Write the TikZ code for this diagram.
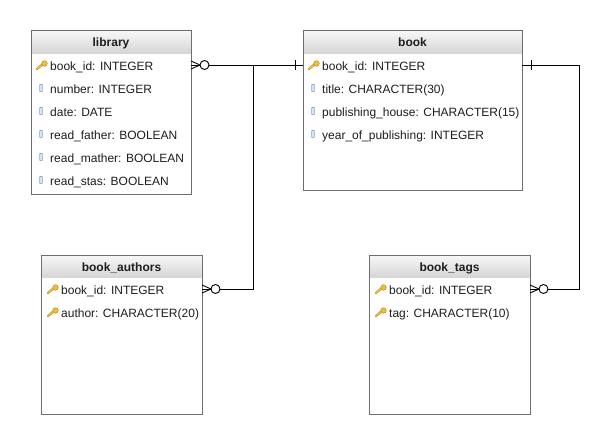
\documentclass[tikz,border=0pt]{standalone}
\usepackage{fontspec}
\setmainfont{Liberation Sans}
\definecolor{boxgray}{HTML}{6E6E6E}
\definecolor{hdtop}{HTML}{F8F8F8}
\definecolor{hdbot}{HTML}{D6D6D6}
\definecolor{txt}{HTML}{1E1E1E}
\definecolor{keyfill}{HTML}{EDBE45}
\definecolor{keyline}{HTML}{C08E1A}
\definecolor{colline}{HTML}{7FA6D1}
\definecolor{colfill}{HTML}{E4EEF8}
\tikzset{
  tbl/.style={draw=boxgray, line width=0.9pt, anchor=north west, inner sep=0pt, outer sep=0pt},
  hdr/.style={top color=hdtop, bottom color=hdbot, draw=none},
  ttl/.style={font=\bfseries\fontsize{12}{14}\selectfont, text=txt, inner sep=0pt, anchor=base},
  rowtxt/.style={font=\fontsize{12}{14}\selectfont, text=txt, inner sep=0pt, anchor=base west},
  conn/.style={draw=black, line width=0.9pt},
  crow/.pic={
    \draw[conn] (0,-4) -- (9,0) -- (0,4);
    \draw[conn, fill=white] (13.5,0) circle[radius=4.5pt];
  },
  tickl/.pic={\draw[conn] (-8,-5) -- (-8,5);},
  tickr/.pic={\draw[conn] (9,-5) -- (9,5);},
  keyicon/.pic={
    \draw[keyline, line width=2.2pt, line cap=round] (-5,4) -- (1,-1);
    \draw[keyfill, line width=1.2pt, line cap=round] (-5,4) -- (1,-1);
    \draw[keyline, fill=keyfill, line width=0.5pt] (2.5,-1.5) circle[radius=2.8pt];
  },
  colicon/.pic={
    \draw[colline, fill=colfill, line width=0.7pt, rounded corners=0.5pt] (-1.3,-3.6) rectangle (1.3,3.6);
  }
}
\begin{document}
\begin{tikzpicture}[x=1pt,y=-1pt]
\useasboundingbox[fill=white] (0,0) rectangle (609,444);

% ---------- library ----------
\shade[hdr] (31,30) rectangle (191,53);
\node[tbl, minimum width=160pt, minimum height=164pt] (lib) at (31,30) {};
\node[ttl] (libt) at (111,46) {library};
\coordinate (libk) at (42,65);
\pic at (42,65) {keyicon};
\node[rowtxt] (lib1) at (50,70) {book\_id: INTEGER};
\pic at (41,88) {colicon};
\node[rowtxt] (lib2) at (50,93) {number: INTEGER};
\pic at (41,111) {colicon};
\node[rowtxt] (lib3) at (50,116) {date: DATE};
\pic at (41,134) {colicon};
\node[rowtxt] (lib4) at (50,139) {read\_father: BOOLEAN};
\pic at (41,157) {colicon};
\node[rowtxt] (lib5) at (50,162) {read\_mather: BOOLEAN};
\pic at (41,180) {colicon};
\node[rowtxt] (lib6) at (50,185) {read\_stas: BOOLEAN};

% ---------- book ----------
\shade[hdr] (303,30) rectangle (522,53);
\node[tbl, minimum width=219pt, minimum height=160pt] (book) at (303,30) {};
\node[ttl] (bookt) at (412.5,46) {book};
\coordinate (bookk) at (314,65);
\pic at (314,65) {keyicon};
\node[rowtxt] (book1) at (322,70) {book\_id: INTEGER};
\pic at (313,88) {colicon};
\node[rowtxt] (book2) at (322,93) {title: CHARACTER(30)};
\pic at (313,111) {colicon};
\node[rowtxt] (book3) at (322,116) {publishing\_house: CHARACTER(15)};
\pic at (313,134) {colicon};
\node[rowtxt] (book4) at (322,139) {year\_of\_publishing: INTEGER};

% ---------- book_authors ----------
\shade[hdr] (41,255) rectangle (202,277);
\node[tbl, minimum width=161pt, minimum height=159pt] (ba) at (41,255) {};
\node[ttl] (bat) at (121.5,271) {book\_authors};
\coordinate (bak) at (53,289);
\pic at (53,289) {keyicon};
\node[rowtxt] (ba1) at (61,294) {book\_id: INTEGER};
\pic at (53,312) {keyicon};
\node[rowtxt] (ba2) at (61,317) {author: CHARACTER(20)};

% ---------- book_tags ----------
\shade[hdr] (369,255) rectangle (530,277);
\node[tbl, minimum width=161pt, minimum height=159pt] (bt) at (369,255) {};
\node[ttl] (btt) at (449.5,271) {book\_tags};
\coordinate (btk) at (381,289);
\pic at (381,289) {keyicon};
\node[rowtxt] (bt1) at (389,294) {book\_id: INTEGER};
\pic at (381,312) {keyicon};
\node[rowtxt] (bt2) at (389,317) {tag: CHARACTER(10)};

% ---------- connectors ----------
\coordinate (j1) at (253,65);
\coordinate (c2) at (579,65);
\draw[conn] (lib.east|-libk) -- (book.west|-bookk);
\draw[conn] (j1) -- (j1|-bak) -- (ba.east|-bak);
\draw[conn] (book.east|-bookk) -- (c2) -- (c2|-btk) -- (bt.east|-btk);
\pic at (lib.east|-libk) {crow};
\pic at (ba.east|-bak) {crow};
\pic at (bt.east|-btk) {crow};
\pic at (book.west|-bookk) {tickl};
\pic at (book.east|-bookk) {tickr};
\end{tikzpicture}
\end{document}
